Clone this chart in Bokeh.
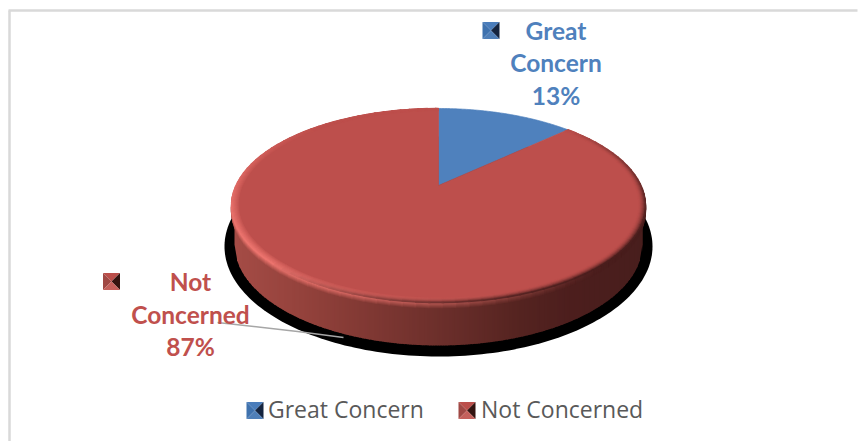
import numpy as np
from bokeh.core.properties import value
from bokeh.embed import file_html
from bokeh.models import Range1d
from bokeh.plotting import figure
from bokeh.resources import INLINE

categories = ["Great Concern", "Not Concerned"]
shares = [13, 87]
slice_colors = ["#4F81BD", "#BD4F4C"]
label_colors = ["#4F81BD", "#C0504D"]

WIDTH, HEIGHT = 858, 441

# Geometry of the tilted disc, in page pixels
APEX_X, APEX_Y = 438.0, 185.0
PERSPECTIVE, DISC_A, DISC_B = 0.2062, 202.5, 92.9
WALL_TOP, WALL_CY, WALL_A, WALL_B = 205.0, 244.0, 204.0, 101.0


def project(theta_deg, radius=1.0):
    """Map a clockwise-from-top disc angle onto the tilted page plane."""
    t = np.radians(theta_deg)
    u, v = radius * np.sin(t), -radius * np.cos(t)
    w = 1 - PERSPECTIVE * v
    return APEX_X + DISC_A * u / w, APEX_Y + DISC_B * v / w


def mix(a, b, t):
    t = float(np.clip(t, 0, 1))
    return tuple(int(round(a[i] + (b[i] - a[i]) * t)) for i in range(3))


def to_hex(c):
    return "#%02X%02X%02X" % tuple(c)


def wall_color(x):
    stops_x = [231, 300, 360, 438, 520, 570, 645]
    stops = np.array([(165, 76, 70), (148, 66, 60), (130, 57, 52), (108, 47, 43),
                      (84, 35, 32), (76, 30, 29), (72, 30, 29)], dtype=float)
    return tuple(np.interp(x, stops_x, stops[:, i]) for i in range(3))


def wall_depth(x):
    return WALL_B * np.sqrt(max(0.0, 1 - ((x - APEX_X) / WALL_A) ** 2))


p = figure(width=WIDTH, height=HEIGHT, output_backend="svg", toolbar_location=None,
           x_range=Range1d(0, WIDTH), y_range=Range1d(HEIGHT, 0),
           min_border=0, outline_line_color=None, background_fill_color="white",
           border_fill_color="white")
p.axis.visible = False
p.grid.visible = False

# Chart frame: only the top and left edges fall inside the page
p.line([9, 9], [10, HEIGHT], line_color="#D9D9D9", line_width=2.5)
p.line([8, 857], [10, 10], line_color="#D9D9D9", line_width=2.5)

# Ground shadow
phi = np.linspace(0, 2 * np.pi, 240)
p.patch(438 + 214 * np.cos(phi), 246 + 110 * np.sin(phi), fill_color="black", line_color=None)

# Side wall as narrow vertical strips running dark towards the right
strip_xs, strip_ys, strip_colors = [], [], []
for x0 in np.arange(APEX_X - WALL_A, APEX_X + WALL_A, 2.5):
    x1 = min(x0 + 3.0, APEX_X + WALL_A)
    strip_xs.append([x0, x1, x1, x0])
    strip_ys.append([WALL_TOP, WALL_TOP, WALL_CY + wall_depth(x1), WALL_CY + wall_depth(x0)])
    strip_colors.append(to_hex(mix(wall_color(x0), wall_color(x0), 0)))
p.patches(strip_xs, strip_ys, fill_color=strip_colors, line_color=None)

# Top face slices, one per share, clockwise from twelve o'clock
start = 0.0
total = sum(shares)
for share, color in zip(shares, slice_colors):
    sweep = 360.0 * share / total
    th = np.linspace(start, start + sweep, max(3, int(sweep * 2)))
    rx, ry = project(th)
    p.patch(np.r_[APEX_X, rx], np.r_[APEX_Y, ry], fill_color=color,
            line_color=color, line_width=0.7)
    start += sweep

base = (189, 79, 76)
highlight = (236, 116, 110)
shade = (74, 30, 29)
step = 3.0
rim_start = 360.0 * shares[0] / total

# Soft shoulder where the face rounds over into the wall
sh_xs, sh_ys, sh_colors = [], [], []
for drop in np.arange(5.0, 0.4, -1.0):
    weight = 1 - drop / 6.0
    for th0 in np.arange(92.0, 268.0, step):
        mid = th0 + step / 2
        xs, ys = project(np.array([th0, th0 + step + 0.5]))
        lit = max(0.0, np.cos(np.radians(mid - 225))) ** 1.5
        c = mix(wall_color(float(np.mean(xs))), highlight, lit * weight)
        sh_xs.append(list(xs))
        sh_ys.append(list(ys + drop))
        sh_colors.append(to_hex(c))
p.multi_line(sh_xs, sh_ys, line_color=sh_colors, line_width=1.5)

# Bevel: rings around the rim, lit at lower left and shaded at lower right
ring_xs, ring_ys, ring_colors = [], [], []
for inset in np.arange(6.0, -0.1, -1.0):
    weight = 1 - inset / 7.0
    radius = 1 - inset / 203.0
    for th0 in np.arange(rim_start, 360.0, step):
        th1 = min(th0 + step + 0.5, 360.0)
        mid = th0 + step / 2
        lit = max(0.0, np.cos(np.radians(mid - 232))) ** 1.5
        dark = max(0.0, np.cos(np.radians(mid - 135)))
        c = mix(base, highlight, lit * weight ** 0.8)
        c = mix(c, shade, dark * weight ** 2.0)
        xs, ys = project(np.array([th0, th1]), radius)
        ring_xs.append(list(xs))
        ring_ys.append(list(ys))
        ring_colors.append(to_hex(c))
p.multi_line(ring_xs, ring_ys, line_color=ring_colors, line_width=1.5)

# Leader from the lower label to its slice
p.line([217, 297, 343], [322, 331, 337], line_color="#A6A6A6", line_width=1.5)


def bevel_key(cx, cy, top, left, right, bottom, half=8.5):
    x0, x1, y0, y1 = cx - half, cx + half, cy - half, cy + half
    xs = [[x0, x1, cx], [x0, cx, x0], [x1, x1, cx], [x0, x1, cx]]
    ys = [[y0, y0, cy], [y0, cy, y1], [y0, y1, cy], [y1, y1, cy]]
    p.patches(xs, ys, fill_color=[top, left, right, bottom], line_color=None)


blue_key = ("#4A7DBB", "#3F72AE", "#14243F", "#4F7FB8")
red_key = ("#BB4E4A", "#A04844", "#33130F", "#C4605B")

# Data labels with their keys
label_font = value("Lato")
for idx, (key_xy, centre_x, lines_y) in enumerate(
    [((490.5, 30), 555.5, (30, 62, 95)), ((111, 281), 190, (281, 314, 346))]
):
    words = categories[idx].split(" ")
    rows = [words[0], words[1], f"{shares[idx]}%"]
    p.text([centre_x] * 3, list(lines_y), text=rows, text_font=label_font,
           text_font_style="bold", text_font_size="24.5px", text_color=label_colors[idx],
           text_align="center", text_baseline="middle")
    bevel_key(*key_xy, *(blue_key if idx == 0 else red_key))

# Legend along the bottom
bevel_key(254.5, 410, *blue_key)
bevel_key(466.5, 410, *red_key)
p.text([267.5, 480.5], [408, 408], text=categories, text_font=value("Open Sans"),
       text_font_size="23px", text_color="#595959", text_align="left", text_baseline="middle")

open("out.html", "w").write(file_html(p, INLINE))
